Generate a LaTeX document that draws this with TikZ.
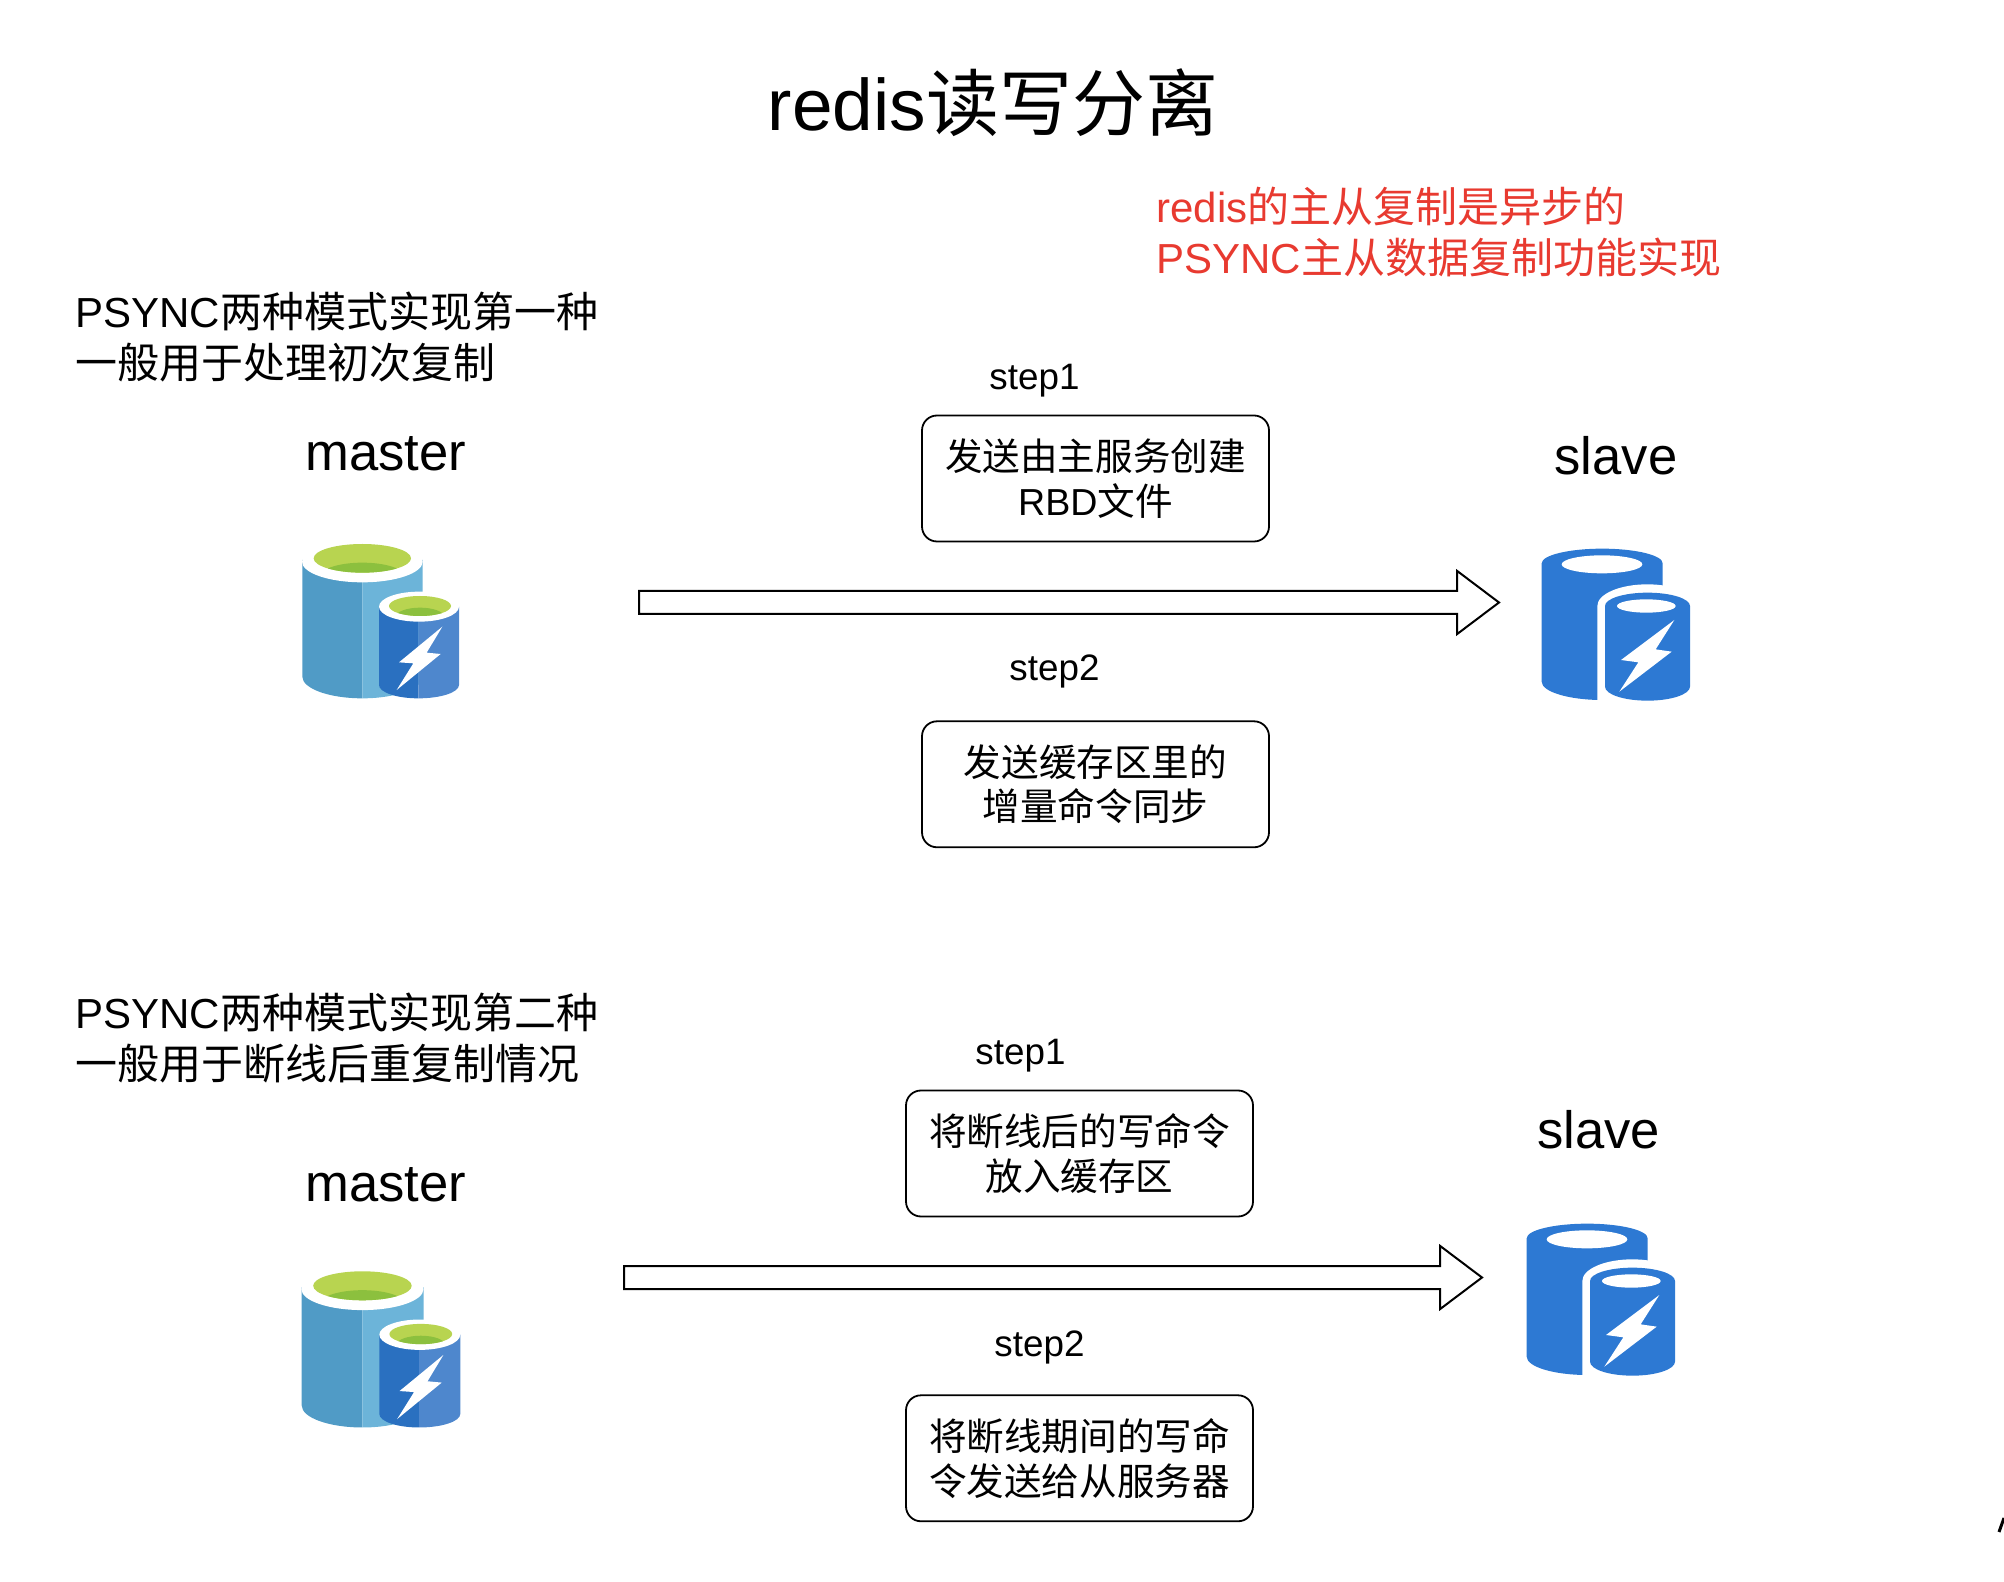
\documentclass[tikz,border=0pt]{standalone}
\usepackage{fontspec}
\setmainfont{Liberation Sans}
\newfontfamily\cjk{Noto Sans CJK SC}
\usetikzlibrary{
  shapes.arrows,
  positioning
}
\newcommand{\zh}[1]{{\cjk #1}}
\definecolor{redtext}{RGB}{232,58,48}
\definecolor{cylleft}{RGB}{80,155,198}
\definecolor{cylright}{RGB}{108,180,217}
\definecolor{smallleft}{RGB}{42,112,192}
\definecolor{smallright}{RGB}{78,135,205}
\definecolor{greenlight}{RGB}{184,212,80}
\definecolor{greendark}{RGB}{140,192,62}
\definecolor{slaveblue}{RGB}{45,121,211}
\tikzset{
  diagramtitle/.style={
    font=\fontsize{36.5}{40}\selectfont, inner sep=0pt
  },
  notelabel/.style={
    font=\fontsize{21}{25.5}\selectfont, align=left,
    anchor=west, inner sep=0pt
  },
  dblabel/.style={
    font=\fontsize{26.3}{30}\selectfont, inner sep=0pt
  },
  steplabel/.style={
    font=\fontsize{18.4}{22}\selectfont, inner sep=0pt
  },
  stepbox/.style={
    draw=black, fill=white, line width=0.9pt,
    rounded corners=7.5pt, minimum width=173.5pt,
    minimum height=63pt, align=center, inner sep=0pt,
    font=\fontsize{18.8}{22.4}\selectfont,
    execute at begin node={\rule{0pt}{20pt}}
  },
  blockarrow/.style={
    single arrow, draw=black, fill=white, line width=1pt,
    anchor=tail, inner xsep=0pt, inner ysep=5.25pt,
    text height=0pt, text depth=0pt, text width=0pt,
    single arrow head extend=10pt, single arrow head indent=0pt,
    single arrow tip angle=74, outer sep=0pt
  },
  masterdb/.pic={
    \begin{scope}[x=0.16667pt,y=-0.16667pt]
      %% large cylinder
      \fill[cylleft] (97,120) -- (97,470) arc[start angle=180,end angle=90,x radius=180,y radius=65] -- (277,120) -- cycle;
      \fill[cylright] (277,120) -- (277,535) arc[start angle=90,end angle=0,x radius=181,y radius=65] -- (458,120) -- cycle;
      \fill[white] (277,125) ellipse[x radius=181,y radius=62];
      \begin{scope}
        \clip (277,115) ellipse[x radius=146,y radius=43];
        \fill[greenlight] (100,60) rectangle (450,170);
        \fill[greendark] (277,168) ellipse[x radius=125,y radius=40];
      \end{scope}
      %% small cylinder
      \fill[smallleft] (327,260) -- (327,495) arc[start angle=180,end angle=90,x radius=118,y radius=40] -- (445,260) -- cycle;
      \fill[smallright] (445,260) -- (445,535) arc[start angle=90,end angle=0,x radius=122,y radius=40] -- (567,260) -- cycle;
      \fill[white] (447,260) ellipse[x radius=120,y radius=45];
      \begin{scope}
        \clip (450,258) ellipse[x radius=93,y radius=30];
        \fill[greenlight] (340,220) rectangle (560,295);
        \fill[greendark] (450,290) ellipse[x radius=72,y radius=27];
      \end{scope}
      %% bolt
      \fill[white] (517,320) -- (387,427) -- (430,430) -- (380,510) -- (512,402) -- (470,398) -- cycle;
    \end{scope}
  },
  slavedb/.pic={
    \begin{scope}[x=0.16667pt,y=-0.16667pt]
      %% large cylinder
      \fill[slaveblue] (95,100) -- (95,455) arc[start angle=180,end angle=0,x radius=181.5,y radius=55] -- (458,100) arc[start angle=0,end angle=-180,x radius=181.5,y radius=44] -- cycle;
      \fill[white] (276,103) ellipse[x radius=121,y radius=27];
      %% white edge round the small one
      \fill[white] (262,228) arc[start angle=180,end angle=360,x radius=150,y radius=65] -- (562,540) -- (262,540) -- cycle;
      %% small cylinder
      \fill[slaveblue] (285,228) -- (285,470) arc[start angle=180,end angle=0,x radius=127.5,y radius=42] -- (540,228) arc[start angle=0,end angle=-180,x radius=127.5,y radius=40] -- cycle;
      \fill[white] (409,228) ellipse[x radius=88,y radius=20];
      %% bolt
      \fill[white] (493,270) -- (333,390) -- (385,397) -- (328,485) -- (485,365) -- (437,358) -- cycle;
    \end{scope}
  },
}
\begin{document}
\begin{tikzpicture}[x=0.5pt,y=-0.5pt]
  \useasboundingbox (0,0) rectangle (2004,1582);

  \node[diagramtitle] (title) at (993,103) {redis\zh{读写分离}};

  \node[notelabel, text=redtext] (note) at (1156,232)
    {redis\zh{的主从复制是异步的}\\PSYNC\zh{主从数据复制功能实现}};

  %% First mode
  \node[notelabel] (mode1) at (75,337)
    {PSYNC\zh{两种模式实现第一种}\\\zh{一般用于处理初次复制}};

  \node[dblabel] (master1) at (386,454) {master};
  \node[dblabel] (slave1) at (1616,456) {slave};
  \pic (mdb1) at (270,520) {masterdb};
  \pic (sdb1) at (1510,530) {slavedb};

  \node[blockarrow, minimum height=430pt] (flow1) at (639,602.5) {};

  \node[stepbox] (box1) at (1095.5,478.5) {\zh{发送由主服务创建}\\RBD\zh{文件}};
  \node[stepbox, below=89pt of box1] (box2) {\zh{发送缓存区里的}\\\zh{增量命令同步}};
  \node[steplabel, above=8.5pt of box1, xshift=-30.5pt] (s1) {step1};
  \node[steplabel, above=16pt of box2, xshift=-20.5pt] (s2) {step2};

  %% Second mode
  \node[notelabel] (mode2) at (75,1038)
    {PSYNC\zh{两种模式实现第二种}\\\zh{一般用于断线后重复制情况}};

  \node[dblabel] (master2) at (386,1185) {master};
  \node[dblabel] (slave2) at (1598.5,1130) {slave};
  \pic[scale=1.012] (mdb2) at (269,1247) {masterdb};
  \pic (sdb2) at (1495,1205) {slavedb};

  \node[blockarrow, minimum height=429pt] (flow2) at (624,1277.5) {};

  \node[stepbox] (box3) at (1079.5,1153.5) {\zh{将断线后的写命令}\\\zh{放入缓存区}};
  \node[stepbox, below=88.5pt of box3] (box4) {\zh{将断线期间的写命}\\\zh{令发送给从服务器}};
  \node[steplabel, above=8.3pt of box3, xshift=-29.5pt] (s3) {step1};
  \node[steplabel, above=15pt of box4, xshift=-20pt] (s4) {step2};

  %% stray mark at the edge
  \draw[line width=1.5pt] (1999,1532) -- (2004,1518);

\end{tikzpicture}
\end{document}
